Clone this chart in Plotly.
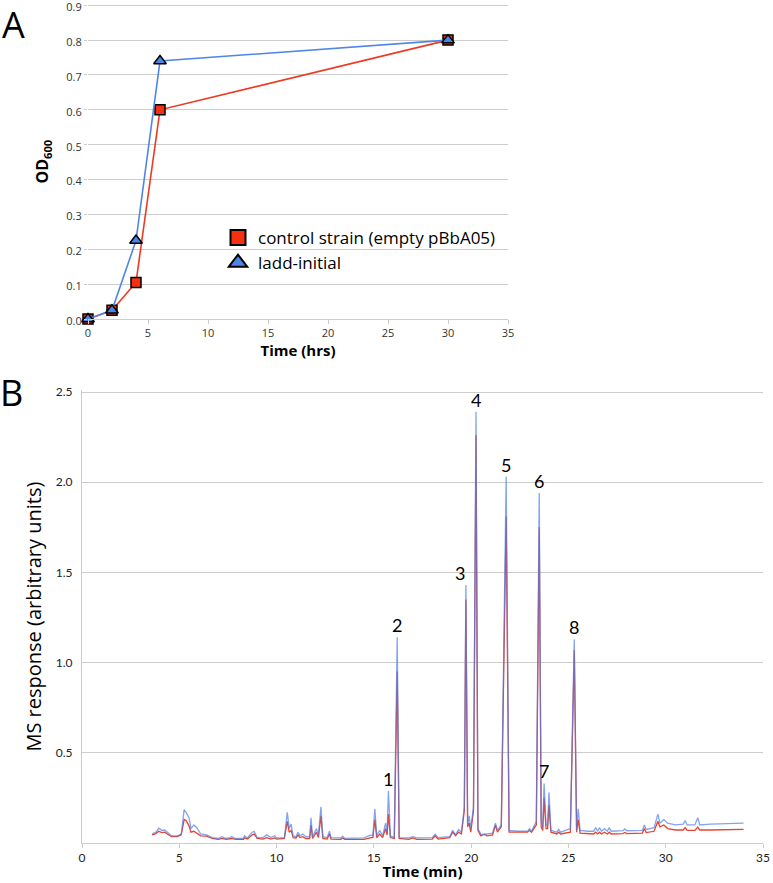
import plotly.graph_objects as go

# ---- Panel A: growth curves ----
growth_time = [0, 2, 4, 6, 30]
od_control = [0.0, 0.025, 0.105, 0.60, 0.80]
od_ladd = [0.0, 0.025, 0.225, 0.74, 0.80]
od_ticks = [0.0, 0.1, 0.2, 0.3, 0.4, 0.5, 0.6, 0.7, 0.8, 0.9]
hrs_ticks = [0, 5, 10, 15, 20, 25, 30, 35]

# ---- Panel B: chromatogram (ladd-initial in blue, control in red) ----
ms_time = [3.6, 3.8, 3.95, 4.1, 4.25, 4.4, 4.6, 4.9, 5.1, 5.25, 5.35, 5.5, 5.6, 5.75, 5.9,
           6.1, 6.4, 6.7, 7.0, 7.2, 7.4, 7.6, 7.7, 7.9, 8.3, 8.35, 8.5, 8.75, 8.85, 9.0,
           9.3, 9.5, 9.7, 9.9, 10.0, 10.4, 10.55, 10.65, 10.75, 10.85, 11.0, 11.1, 11.2,
           11.35, 11.5, 11.7, 11.77, 11.85, 12.05, 12.15, 12.28, 12.38, 12.6, 12.72, 12.8,
           13.3, 13.4, 13.5, 14.5, 14.85, 14.95, 15.05, 15.15, 15.3, 15.45, 15.6, 15.68,
           15.75, 15.85, 16.05, 16.2, 16.3, 16.8, 17.0, 17.2, 18.0, 18.15, 18.3, 18.9,
           19.05, 19.2, 19.35, 19.5, 19.65, 19.73, 19.82, 19.9, 19.98, 20.12, 20.25, 20.35,
           20.5, 20.7, 20.8, 21.1, 21.25, 21.35, 21.55, 21.8, 21.95, 22.4, 22.9, 23.0, 23.1,
           23.35, 23.5, 23.6, 23.68, 23.75, 23.85, 23.93, 24.0, 24.1, 24.4, 24.5, 24.6,
           25.1, 25.3, 25.42, 25.5, 25.6, 26.0, 26.3, 26.4, 26.5, 26.6, 26.7, 26.85, 27.0,
           27.1, 27.2, 27.8, 27.9, 28.0, 28.8, 28.9, 29.0, 29.4, 29.6, 29.7, 29.9, 30.1,
           30.5, 30.9, 31.0, 31.1, 31.5, 31.65, 31.75, 32.3, 32.9, 33.4, 34.0]
ms_ladd = [0.050, 0.060, 0.082, 0.070, 0.072, 0.060, 0.040, 0.040, 0.050, 0.185, 0.170, 0.140,
           0.080, 0.100, 0.085, 0.050, 0.045, 0.030, 0.025, 0.035, 0.025, 0.030, 0.035, 0.025,
           0.025, 0.040, 0.028, 0.060, 0.065, 0.030, 0.030, 0.045, 0.030, 0.040, 0.028, 0.030,
           0.170, 0.080, 0.105, 0.040, 0.035, 0.060, 0.040, 0.050, 0.035, 0.035, 0.140, 0.035,
           0.080, 0.040, 0.200, 0.035, 0.030, 0.065, 0.030, 0.028, 0.038, 0.026, 0.028, 0.045,
           0.040, 0.190, 0.040, 0.070, 0.040, 0.110, 0.060, 0.290, 0.040, 0.030, 1.140, 0.030,
           0.028, 0.035, 0.028, 0.030, 0.048, 0.030, 0.035, 0.070, 0.045, 0.075, 0.060, 0.200,
           1.430, 0.100, 0.150, 0.080, 0.200, 2.390, 0.080, 0.050, 0.045, 0.050, 0.055, 0.110,
           0.070, 0.100, 2.030, 0.070, 0.065, 0.065, 0.080, 0.065, 0.120, 1.940, 0.120, 0.090,
           0.330, 0.100, 0.100, 0.280, 0.070, 0.060, 0.075, 0.060, 0.080, 1.130, 0.070, 0.190,
           0.070, 0.065, 0.065, 0.085, 0.065, 0.085, 0.065, 0.080, 0.065, 0.085, 0.065, 0.068,
           0.078, 0.068, 0.070, 0.100, 0.075, 0.085, 0.160, 0.110, 0.130, 0.110, 0.100, 0.105,
           0.125, 0.100, 0.100, 0.140, 0.100, 0.105, 0.108, 0.110, 0.110]
ms_control = [0.045, 0.052, 0.065, 0.058, 0.060, 0.050, 0.035, 0.035, 0.045, 0.130, 0.125, 0.095,
              0.060, 0.065, 0.055, 0.040, 0.038, 0.025, 0.020, 0.025, 0.020, 0.022, 0.025, 0.020,
              0.020, 0.030, 0.022, 0.045, 0.050, 0.025, 0.022, 0.030, 0.022, 0.028, 0.022, 0.025,
              0.120, 0.060, 0.070, 0.030, 0.028, 0.045, 0.030, 0.035, 0.025, 0.025, 0.100, 0.025,
              0.060, 0.030, 0.150, 0.025, 0.022, 0.050, 0.022, 0.020, 0.028, 0.020, 0.020, 0.030,
              0.030, 0.130, 0.030, 0.050, 0.030, 0.080, 0.045, 0.160, 0.030, 0.025, 0.950, 0.025,
              0.020, 0.028, 0.020, 0.022, 0.040, 0.022, 0.030, 0.060, 0.040, 0.060, 0.050, 0.180,
              1.350, 0.090, 0.110, 0.060, 0.180, 2.260, 0.070, 0.040, 0.050, 0.040, 0.045, 0.100,
              0.060, 0.090, 1.810, 0.060, 0.060, 0.060, 0.070, 0.060, 0.100, 1.750, 0.090, 0.070,
              0.250, 0.080, 0.080, 0.210, 0.060, 0.050, 0.060, 0.050, 0.060, 1.070, 0.060, 0.130,
              0.055, 0.050, 0.050, 0.060, 0.050, 0.060, 0.050, 0.060, 0.050, 0.060, 0.050, 0.052,
              0.058, 0.052, 0.055, 0.080, 0.058, 0.065, 0.120, 0.090, 0.100, 0.080, 0.072, 0.072,
              0.085, 0.070, 0.070, 0.088, 0.072, 0.072, 0.072, 0.074, 0.075]
peak_labels = ["1", "2", "3", "4", "5", "6", "7", "8"]
peak_times = [15.75, 16.2, 19.73, 20.25, 21.8, 23.5, 23.75, 25.3]
min_ticks = [0, 5, 10, 15, 20, 25, 30, 35]
ms_ticks = [0.5, 1.0, 1.5, 2.0, 2.5]

W, H = 773, 883
BLUE = "#4f86e6"
RED = "#ee3a22"
GRID = "#cccccc"

fig = go.Figure()

# panel A lines + markers
fig.add_trace(go.Scatter(x=growth_time, y=od_control, mode="lines+markers", showlegend=False,
                         line=dict(color=RED, width=1.6), cliponaxis=False,
                         marker=dict(symbol="square", size=10, color="#f5300f",
                                     line=dict(color="black", width=1.5))))
fig.add_trace(go.Scatter(x=growth_time, y=od_ladd, mode="lines+markers", showlegend=False,
                         line=dict(color=BLUE, width=1.6), cliponaxis=False,
                         marker=dict(symbol="triangle-up", size=11, color="#4a86e8",
                                     line=dict(color="black", width=1.5))))
# legend entries (bigger symbols, no line)
fig.add_trace(go.Scatter(x=[None], y=[None], mode="markers", name="control strain (empty pBbA05)",
                         marker=dict(symbol="square", size=15, color="#f5300f",
                                     line=dict(color="black", width=2))))
fig.add_trace(go.Scatter(x=[None], y=[None], mode="markers", name="ladd-initial",
                         marker=dict(symbol="triangle-up", size=16, color="#4a86e8",
                                     line=dict(color="black", width=2))))

# panel B chromatograms: red underneath, translucent blue on top gives the purple overlap
fig.add_trace(go.Scatter(x=ms_time, y=ms_control, mode="lines", xaxis="x2", yaxis="y2",
                         showlegend=False, line=dict(color="#e8432e", width=1.3)))
fig.add_trace(go.Scatter(x=ms_time, y=ms_ladd, mode="lines", xaxis="x2", yaxis="y2",
                         showlegend=False, opacity=0.7, line=dict(color="#4f7ee8", width=1.3)))

# peak numbers above the blue trace
for lab, t in zip(peak_labels, peak_times):
    h = ms_ladd[ms_time.index(t)]
    fig.add_annotation(x=t, y=h, xref="x2", yref="y2", text=lab, showarrow=False,
                       yanchor="middle", yshift=12, xshift=-6 if lab == "3" else 0,
                       font=dict(family="Lato", size=18, color="black"))

# panel letters
fig.add_annotation(x=0, y=1.0, xref="paper", yref="paper", text="A", showarrow=False,
                   xanchor="left", yanchor="top", yshift=2, xshift=0,
                   font=dict(family="Open Sans", size=36, color="black"))
fig.add_annotation(x=0, y=1 - 366 / H, xref="paper", yref="paper", text="B", showarrow=False,
                   xanchor="left", yanchor="top", xshift=-2,
                   font=dict(family="Open Sans", size=36, color="black"))

fig.update_layout(
    template="none",
    width=W, height=H,
    margin=dict(l=0, r=0, t=0, b=0),
    paper_bgcolor="white", plot_bgcolor="white",
    font=dict(family="Open Sans", color="#333333"),
    legend=dict(x=218 / W, y=1 - 220 / H, xanchor="left", yanchor="top",
                bgcolor="rgba(0,0,0,0)", font=dict(family="Open Sans", size=17, color="black"),
                tracegroupgap=0, itemsizing="trace"),
    xaxis=dict(domain=[88 / W, 508 / W], range=[0, 35], tickvals=hrs_ticks,
               showgrid=False, showline=True, linecolor=GRID, linewidth=1,
               ticks="outside", ticklen=4, tickcolor=GRID, zeroline=False,
               tickfont=dict(size=11, color="#333333"), automargin=False,
               title=dict(text="<b>Time (hrs)</b>", standoff=4,
                          font=dict(size=15, color="black"))),
    yaxis=dict(domain=[1 - 319 / H, 1 - 4.2 / H], range=[0, 0.903], tickvals=od_ticks,
               tickformat=".1f", showgrid=True, gridcolor=GRID, gridwidth=1,
               showline=False, zeroline=False, ticks="outside", ticklen=3, tickcolor=GRID,
               ticklabeloverflow="allow", ticklabelshift=2,
               tickfont=dict(size=11, color="#333333"), automargin=False,
               title=dict(text="<b>OD<sub>600</sub></b>", standoff=13,
                          font=dict(size=16, color="black"))),
    xaxis2=dict(domain=[82 / W, 763 / W], range=[0, 35], tickvals=min_ticks, anchor="y2",
                showgrid=False, showline=True, linecolor=GRID, linewidth=1,
                ticks="outside", ticklen=4, tickcolor=GRID, zeroline=False,
                tickfont=dict(family="Lato", size=12, color="#222222"), automargin=False,
                title=dict(text="<b>Time (min)</b>", standoff=2,
                           font=dict(family="Open Sans", size=15, color="black"))),
    yaxis2=dict(domain=[1 - 843 / H, 1 - 390.2 / H], range=[0, 2.51], tickvals=ms_ticks,
                tickformat=".1f", anchor="x2", showgrid=True, gridcolor=GRID, gridwidth=1,
                showline=True, linecolor=GRID, zeroline=False, ticks="",
                ticklabelstandoff=6,
                tickfont=dict(family="Lato", size=12, color="#222222"), automargin=False,
                title=dict(text="MS response (arbitrary units)", standoff=8,
                           font=dict(family="Open Sans", size=20, color="black"))),
)

# drop the browser's default 8px body margin so the figure sits at the page origin
fig.write_html("out.html", config={"displayModeBar": False},
               post_script="document.body.style.margin='0px';")
